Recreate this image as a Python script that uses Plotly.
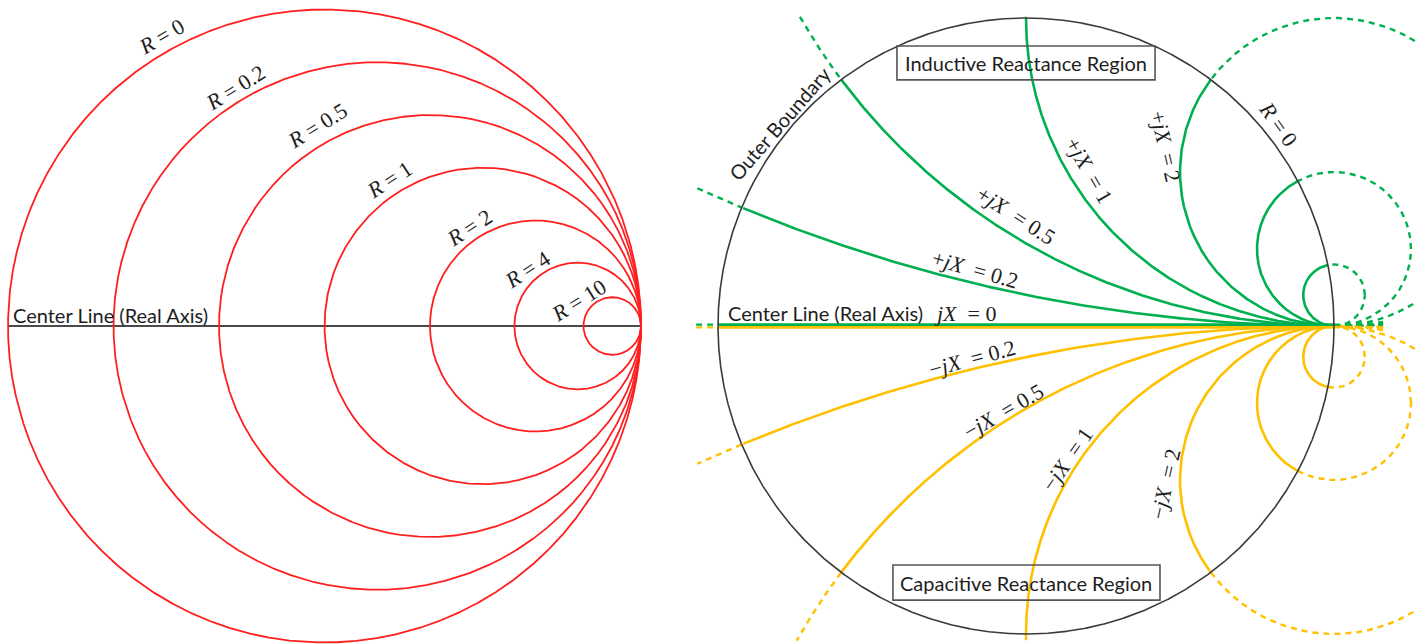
import numpy as np
import plotly.graph_objects as go

# Normalised resistance circles (left chart)
resistances = [0, 0.2, 0.5, 1, 2, 4, 10]
resistance_labels = ["0", "0.2", "0.5", "1", "2", "4", "10"]

# Normalised reactance circles (right chart), drawn for +jX and -jX
reactances = [0.2, 0.5, 1, 2, 4, 10]
reactance_labels = ["0.2", "0.5", "1", "2"]

RED = "#ff1f1f"
GREEN = "#00b050"
GOLD = "#ffc000"
BLACK = "#3a3a3a"
W, H = 1421, 644
SPLIT = 690 / W

MATH_FONT = "Liberation Serif"
TEXT_FONT = "Lato"

theta = np.linspace(0, 2 * np.pi, 6001)
fig = go.Figure()


def gaps(values, mask):
    return [float(v) if m else None for v, m in zip(values, mask)]


def line(x, y, color, width, axis, dash="solid"):
    xa, ya = ("x", "y") if axis == 1 else ("x2", "y2")
    fig.add_trace(go.Scatter(x=x, y=y, mode="lines", xaxis=xa, yaxis=ya,
                             line=dict(color=color, width=width, dash=dash),
                             hoverinfo="skip", showlegend=False,
                             connectgaps=False))


# ---------- left chart: constant-resistance circles ----------
line([-1, 1], [0, 0], "#4a4a4a", 2, 1)
for r in resistances:
    c, rad = r / (1 + r), 1 / (1 + r)
    line(c + rad * np.cos(theta), rad * np.sin(theta), RED, 1.8, 1)

# ---------- right chart: constant-reactance circles ----------
clip_x0, clip_x1, clip_y0, clip_y1 = -1.071, 1.263, -1.023, 1.005
DASH = "6px,5px"

for sign, color in ((1, GREEN), (-1, GOLD)):
    for xv in reactances:
        cy, rad = sign / xv, 1 / xv
        gx = 1 + rad * np.cos(theta)
        gy = cy + rad * np.sin(theta)
        inside = gx ** 2 + gy ** 2 <= 1 + 1e-9
        in_box = (gx >= clip_x0) & (gx <= clip_x1) & (gy >= clip_y0) & (gy <= clip_y1)
        if xv <= 1:
            in_box &= gx <= 1.16
        outside = (~inside) & in_box
        line(gaps(gx, outside), gaps(gy, outside), color, 2.4, 2, DASH)
        line(gaps(gx, inside), gaps(gy, inside), color, 2.6, 2)

# real axis (jX = 0) split into the inductive and capacitive sides
for off, color in ((0.0045, GREEN), (-0.0045, GOLD)):
    line([clip_x0, -1], [off, off], color, 2.4, 2, DASH)
    line([1, 1.16], [off, off], color, 2.4, 2, DASH)
    line([-1, 1], [off, off], color, 2.6, 2)

# outer boundary (R = 0)
line(np.cos(theta), np.sin(theta), BLACK, 1.6, 2)

# ---------- annotations ----------
ann = []


def label(text, x, y, angle=0, axis=1, font=MATH_FONT, size=22, xanchor="center"):
    ann.append(dict(text=text, x=x, y=y, xref="x" if axis == 1 else "x2",
                    yref="y" if axis == 1 else "y2", textangle=angle,
                    showarrow=False, xanchor=xanchor, yanchor="middle",
                    font=dict(family=font, size=size, color="#1e1e1e")))


left_pos = [(-0.515, 0.915, -30), (-0.280, 0.752, -32), (-0.021, 0.632, -32),
            (0.206, 0.462, -33), (0.459, 0.310, -33), (0.642, 0.178, -33),
            (0.803, 0.080, -32)]
for lab, (px, py, ang) in zip(resistance_labels, left_pos):
    label(f"<i>R</i> = {lab}", px, py, ang)
label("Center Line (Real Axis)", -0.99, 0.036, font=TEXT_FONT, size=20, xanchor="left")

# right chart labels
label("Center Line (Real Axis)", -0.974, 0.042, axis=2, font=TEXT_FONT, size=20, xanchor="left")
label("<i>jX</i>\u00a0 = 0", -0.198, 0.042, axis=2)
label("Outer Boundary", -0.80, 0.66, -49, axis=2, font=TEXT_FONT, size=20)
label("<i>R</i> = 0", 0.821, 0.655, 55, axis=2)

pos_plus = [(-0.165, 0.184, 16), (-0.032, 0.360, 33), (0.205, 0.505, 60), (0.452, 0.582, 77)]
pos_minus = [(-0.175, -0.104, -15), (-0.074, -0.276, -30), (0.133, -0.432, -55), (0.451, -0.513, -77)]
for lab, (px, py, ang) in zip(reactance_labels, pos_plus):
    label(f"+<i>jX</i>\u00a0 = {lab}", px, py, ang, axis=2)
for lab, (px, py, ang) in zip(reactance_labels, pos_minus):
    label(f"\u2212<i>jX</i>\u00a0 = {lab}", px, py, ang, axis=2)

label("Inductive Reactance Region", 0.0, 0.854, axis=2, font=TEXT_FONT, size=20)
label("Capacitive Reactance Region", 0.0, -0.833, axis=2, font=TEXT_FONT, size=20)

shapes = [
    dict(type="rect", xref="x2", yref="y2", x0=-0.419, x1=0.419, y0=0.799, y1=0.909,
         line=dict(color="#555555", width=1.6)),
    dict(type="rect", xref="x2", yref="y2", x0=-0.432, x1=0.435, y0=-0.890, y1=-0.776,
         line=dict(color="#555555", width=1.6)),
]

# pixel-accurate axis ranges: left centre (324.5, 326) r=316.5, right centre (1026, 326) r=308
s1, c1x, cy_px = 316.5, 324.5, 326
s2, c2x = 308.0, 1026
ax_common = dict(visible=False, showgrid=False, zeroline=False, fixedrange=True)
fig.update_layout(
    width=W, height=H, margin=dict(l=0, r=0, t=0, b=0),
    paper_bgcolor="white", plot_bgcolor="white",
    xaxis=dict(domain=[0, SPLIT], range=[(0 - c1x) / s1, (690 - c1x) / s1], **ax_common),
    yaxis=dict(domain=[0, 1], range=[-(H - cy_px) / s1, cy_px / s1], **ax_common),
    xaxis2=dict(domain=[SPLIT, 1], range=[(690 - c2x) / s2, (W - c2x) / s2], **ax_common),
    yaxis2=dict(domain=[0, 1], range=[-(H - cy_px) / s2, cy_px / s2], **ax_common),
    annotations=ann, shapes=shapes,
)

fig.write_html("out.html")
